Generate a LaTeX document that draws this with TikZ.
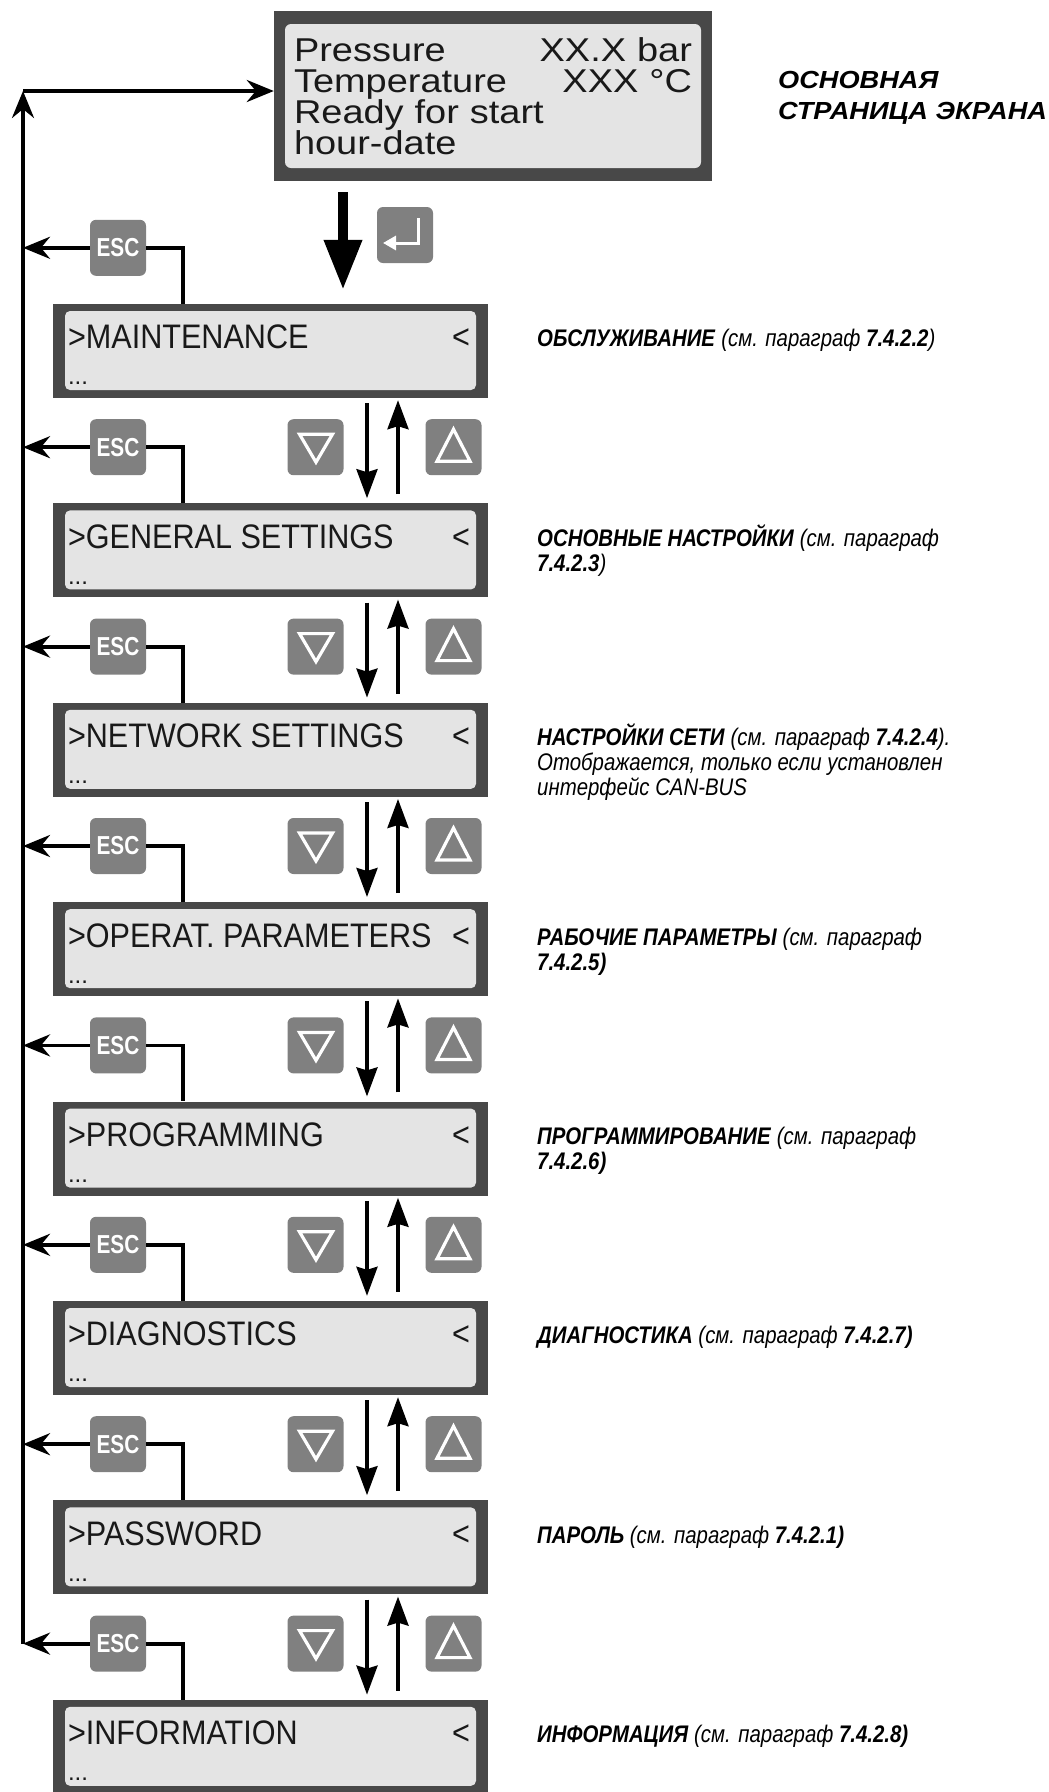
\documentclass[tikz,border=0pt]{standalone}
\usepackage{fontspec}
\setmainfont{Liberation Sans}
\newfontfamily\lcdwide[FakeStretch=1.15]{Liberation Sans}
\newfontfamily\lcdnarrow[FakeStretch=0.9]{Liberation Sans}
\newfontfamily\keyfont[FakeStretch=0.8]{Liberation Sans}
\newfontfamily\notefont[FakeStretch=0.85]{Liberation Sans}
\newfontfamily\titlefont[FakeStretch=1.1]{Liberation Sans}
\usetikzlibrary{arrows.meta,positioning,calc}

\definecolor{framegray}{HTML}{484848}
\definecolor{panelgray}{HTML}{E4E4E4}
\definecolor{keygray}{HTML}{808080}

\newcommand{\hd}[1]{\textbf{\textit{#1}}}
\newcommand{\rf}[1]{\textit{#1}}

\begin{document}
\begin{tikzpicture}[
    x=1pt, y=-1pt,
    lcdmain/.style={fill=framegray, minimum width=438pt, minimum height=170pt,
      inner sep=0pt, text width=398pt, align=left, text=black!90,
      font=\lcdwide\fontsize{33pt}{31pt}\selectfont,
      path picture={\fill[panelgray, rounded corners=6pt]
        ([shift={(11pt,-13pt)}]path picture bounding box.north west) rectangle
        ([shift={(-11pt,13pt)}]path picture bounding box.south east);}},
    menubox/.style={fill=framegray, minimum width=435pt, minimum height=94pt,
      inner sep=0pt,
      path picture={\fill[panelgray, rounded corners=5pt]
        ([shift={(12pt,-7pt)}]path picture bounding box.north west) rectangle
        ([shift={(-12pt,8pt)}]path picture bounding box.south east);}},
    menutxt/.style={inner sep=0pt, text=black!90,
      font=\lcdnarrow\fontsize{34pt}{34pt}\selectfont},
    dotstxt/.style={inner sep=0pt, text=black!90,
      font=\fontsize{24pt}{24pt}\selectfont},
    key/.style={fill=keygray, rounded corners=6pt, minimum size=56pt, inner sep=0pt},
    esckey/.style={key, text=white, font=\keyfont\bfseries\fontsize{26pt}{26pt}\selectfont},
    keysign/.style={draw=white, line width=3.2pt, line join=miter},
    note/.style={inner sep=0pt, align=left, font=\notefont\fontsize{24pt}{25pt}\selectfont},
    title/.style={inner sep=0pt, align=left,
      font=\titlefont\bfseries\itshape\fontsize{24.7pt}{31pt}\selectfont},
    wire/.style={line width=3.8pt, black},
    back/.style={wire, -{Stealth[length=27pt, width=22pt, inset=9pt]}},
    navarrow/.style={line width=3.5pt, black, -{Stealth[length=29pt, width=21pt, inset=3pt]}},
    enterarrow/.style={line width=10pt, black, -{Triangle[length=50pt, width=36pt]}}
  ]
    \useasboundingbox (0,0) rectangle (1049,1792);

    % main screen
    \node[lcdmain] (main) at (493,96)
      {Pressure\hfill XX.X bar\\Temperature\hfill XXX °C\\Ready for start\\hour-date};
    % base anchor of a two-line node sits on its last line
    \node[title, anchor=base west] (ttl) at (778,119) {ОСНОВНАЯ\\СТРАНИЦА ЭКРАНА};

    \coordinate (bus) at (23,91);
    \coordinate (entx) at (343,0);
    \coordinate (dnx) at (367,0);
    \coordinate (upx) at (398,0);
    \coordinate (labx) at (537,0);

    % menu screens with ESC keys
    \foreach \name [count=\i from 0] in {MAINTENANCE, GENERAL SETTINGS, NETWORK SETTINGS,
        OPERAT. PARAMETERS, PROGRAMMING, DIAGNOSTICS, PASSWORD, INFORMATION} {
      \node[menubox] (m\i) at (270.5,{351+199.4*\i}) {};
      \node[menutxt, anchor=base west] (t\i) at ([shift={(15pt,-45pt)}]m\i.north west) {>\name};
      \node[menutxt, anchor=base east] (c\i) at ([shift={(-18pt,-45pt)}]m\i.north east) {<};
      \node[dotstxt, anchor=base west] (d\i) at ([shift={(15pt,-81pt)}]m\i.north west) {...};
      \node[esckey] (e\i) at ([shift={(-152.5pt,56pt)}]m\i.north) {ESC};
      \coordinate (k\i) at ([xshift=130pt]m\i.north west);
      \draw[wire] (e\i.east) -| (k\i);
      \draw[back] (e\i.west) -- (e\i.west -| bus);
    }

    % up / down keys between screens
    \foreach \i [evaluate=\i as \j using {int(\i-1)}] in {1,...,7} {
      \node[key] (dn\i) at ([shift={(45pt,56pt)}]m\i.north) {};
      \node[key] (up\i) at ([shift={(183pt,56pt)}]m\i.north) {};
      \draw[keysign] ([shift={(-16pt,13pt)}]dn\i.center) -- ([shift={(17pt,13pt)}]dn\i.center)
        -- ([shift={(0.5pt,-15pt)}]dn\i.center) -- cycle;
      \draw[keysign] ([shift={(-16.5pt,-14pt)}]up\i.center) -- ([shift={(16.5pt,-14pt)}]up\i.center)
        -- ([shift={(0pt,18pt)}]up\i.center) -- cycle;
      \draw[navarrow, shorten <=5pt, shorten >=5pt] (m\j.south -| dnx) -- (m\i.north -| dnx);
      \draw[navarrow, shorten <=9pt, shorten >=2pt] (m\i.north -| upx) -- (m\j.south -| upx);
    }

    % enter key
    \node[key] (ent) at (405,235) {};
    \draw[draw=white, line width=3pt, -{Triangle[length=13pt, width=14pt]}]
      ([shift={(13pt,17pt)}]ent.center) -- ([shift={(13pt,-8pt)}]ent.center)
      -- ([shift={(-22pt,-8pt)}]ent.center);
    \draw[enterarrow, shorten <=11pt, shorten >=14pt] (main.south -| entx) -- (m0.north -| entx);

    % return bus
    \draw[back] (e7.west -| bus) -- (bus);
    \draw[back] (bus) -- (bus -| main.west);

    % descriptions
    \node[note, anchor=base west, yshift=-43pt] (l0) at (m0.north -| labx)
      {\hd{ОБСЛУЖИВАНИЕ} \rf{(см. параграф} \hd{7.4.2.2}\rf{)}};
    \node[note, anchor=base west, yshift=-68pt] (l1) at (m1.north -| labx)
      {\hd{ОСНОВНЫЕ НАСТРОЙКИ} \rf{(см. параграф}\\\hd{7.4.2.3}\rf{)}};
    \node[note, anchor=base west, yshift=-93pt] (l2) at (m2.north -| labx)
      {\hd{НАСТРОЙКИ СЕТИ} \rf{(см. параграф} \hd{7.4.2.4}\rf{).}\\
       \rf{Отображается, только если установлен}\\\rf{интерфейс CAN-BUS}};
    \node[note, anchor=base west, yshift=-68pt] (l3) at (m3.north -| labx)
      {\hd{РАБОЧИЕ ПАРАМЕТРЫ} \rf{(см. параграф}\\\hd{7.4.2.5)}};
    \node[note, anchor=base west, yshift=-68pt] (l4) at (m4.north -| labx)
      {\hd{ПРОГРАММИРОВАНИЕ} \rf{(см. параграф}\\\hd{7.4.2.6)}};
    \node[note, anchor=base west, yshift=-43pt] (l5) at (m5.north -| labx)
      {\hd{ДИАГНОСТИКА} \rf{(см. параграф} \hd{7.4.2.7)}};
    \node[note, anchor=base west, yshift=-43pt] (l6) at (m6.north -| labx)
      {\hd{ПАРОЛЬ} \rf{(см. параграф} \hd{7.4.2.1)}};
    \node[note, anchor=base west, yshift=-43pt] (l7) at (m7.north -| labx)
      {\hd{ИНФОРМАЦИЯ} \rf{(см. параграф} \hd{7.4.2.8)}};
\end{tikzpicture}
\end{document}
